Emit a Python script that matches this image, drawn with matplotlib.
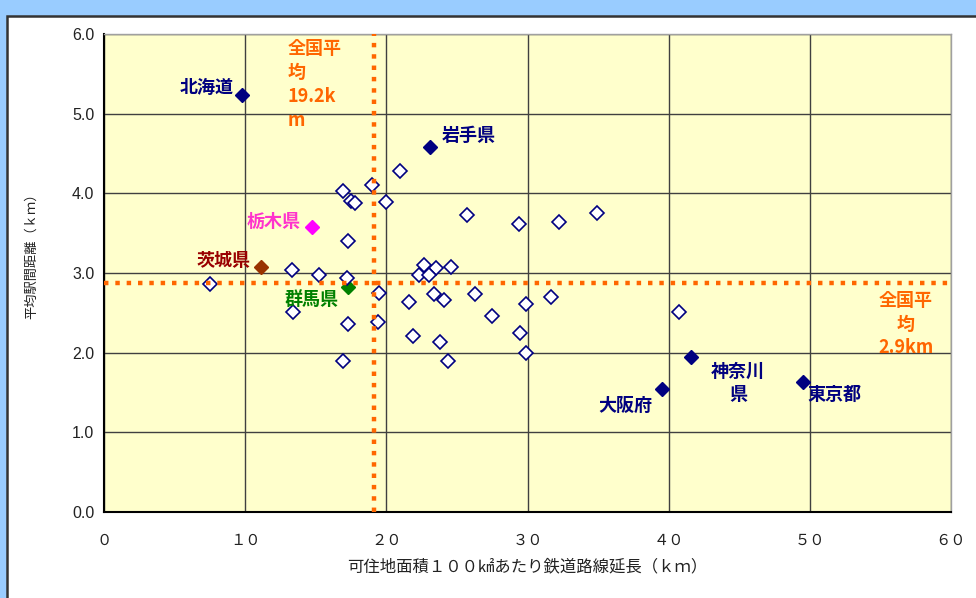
import matplotlib
matplotlib.use("Agg")
import matplotlib.pyplot as plt
from matplotlib.patches import Rectangle

plt.rcParams['font.family'] = ['Noto Sans CJK JP', 'DejaVu Sans']

# ---- data ----
open_x = [16.9, 17.5, 17.8, 19.0, 20.0, 21.0, 25.7, 29.4, 32.2, 34.9,
          17.3, 13.3, 15.2, 17.2, 7.5, 22.7, 23.5, 24.6, 22.3, 23.0,
          19.5, 23.4, 24.1, 21.6, 26.3, 29.9, 31.7, 27.5, 19.4, 13.4,
          17.3, 21.9, 23.8, 29.5, 24.4, 29.9, 16.9, 40.7]
open_y = [4.03, 3.91, 3.88, 4.11, 3.89, 4.28, 3.73, 3.62, 3.64, 3.75,
          3.40, 3.04, 2.97, 2.94, 2.86, 3.10, 3.06, 3.08, 2.97, 2.98,
          2.75, 2.74, 2.66, 2.63, 2.74, 2.61, 2.70, 2.46, 2.39, 2.51,
          2.36, 2.21, 2.13, 2.25, 1.90, 1.99, 1.90, 2.51]

named = ['北海道', '岩手県', '栃木県', '茨城県', '群馬県', '大阪府', '神奈川県', '東京都']
named_x = [9.8, 23.1, 14.7, 11.1, 17.3, 39.5, 41.6, 49.5]
named_y = [5.24, 4.58, 3.58, 3.08, 2.83, 1.54, 1.94, 1.63]
named_colors = ['#000080', '#000080', '#FF00FF', '#993300', '#008000',
                '#000080', '#000080', '#000080']

avg_x = 19.1
avg_y = 2.88

x_ticks = [0, 10, 20, 30, 40, 50, 60]
x_tick_labels = ['０', '１０', '２０', '３０', '４０', '５０', '６０']
y_ticks = [0, 1, 2, 3, 4, 5, 6]
y_tick_labels = ['0.0', '1.0', '2.0', '3.0', '4.0', '5.0', '6.0']

# ---- figure ----
fig = plt.figure(figsize=(9.76, 5.98), dpi=100)
fig.patches.append(Rectangle((0, 0), 1, 1, transform=fig.transFigure,
                             facecolor='#99CCFF', edgecolor='none', zorder=-10))
fig.patches.append(Rectangle((6.5 / 976, -0.05), 1.2, 1 - 15.5 / 598 + 0.05,
                             transform=fig.transFigure, facecolor='white',
                             edgecolor='#333333', linewidth=1.8, zorder=-9))

ax = fig.add_axes([104 / 976, (598 - 512) / 598, (951 - 104) / 976, (512 - 34) / 598])
ax.set_facecolor('#FFFFCC')
ax.set_xlim(0, 60)
ax.set_ylim(0, 6)
ax.set_xticks(x_ticks)
ax.set_xticklabels(x_tick_labels, fontsize=11, color='#222222')
ax.set_yticks(y_ticks)
ax.set_yticklabels(y_tick_labels, fontsize=11.5, color='#222222',
                   family=['Liberation Sans', 'DejaVu Sans'])
ax.tick_params(axis='both', length=0)
ax.tick_params(axis='x', pad=14)
ax.tick_params(axis='y', pad=7)
ax.grid(True, color='#404040', linewidth=1.0)
ax.set_axisbelow(True)
for s in ['left', 'bottom']:
    ax.spines[s].set_color('#000000')
    ax.spines[s].set_linewidth(1.5)
for s in ['top', 'right']:
    ax.spines[s].set_color('#A0A0A0')
    ax.spines[s].set_linewidth(1.0)

# named (filled) markers first, then open ones over them
for x, y, c in zip(named_x, named_y, named_colors):
    ax.plot([x], [y], marker='D', markersize=7.3, color=c, markeredgecolor=c,
            linestyle='none', zorder=3)
ax.plot(open_x, open_y, marker='D', markersize=7.2, markerfacecolor='white',
        markeredgecolor='#000080', markeredgewidth=1.2, linestyle='none', zorder=4)

# average lines
ax.axvline(avg_x, color='#FF6600', linewidth=3.2, linestyle=(0, (1, 1.55)),
           dash_capstyle='butt', zorder=5)
ax.axhline(avg_y, color='#FF6600', linewidth=3.2, linestyle=(0, (1, 1.55)),
           dash_capstyle='butt', zorder=5)

fs = 13
lab = dict(fontsize=fs, fontweight='bold', va='center', zorder=6)
ax.text(9.2, 5.33, '北海道', color='#000080', ha='right', **lab)
ax.text(23.9, 4.72, '岩手県', color='#000080', ha='left', **lab)
ax.text(13.9, 3.65, '栃木県', color='#FF33CC', ha='right', **lab)
ax.text(10.35, 3.16, '茨城県', color='#990000', ha='right', **lab)
ax.text(12.8, 2.67, '群馬県', color='#008000', ha='left', **lab)
ax.text(35.0, 1.34, '大阪府', color='#000080', ha='left', **lab)
ax.text(44.9, 1.76, '神奈川', color='#000080', ha='center', **lab)
ax.text(44.9, 1.47, '県', color='#000080', ha='center', **lab)
ax.text(49.8, 1.47, '東京都', color='#000080', ha='left', **lab)

for t, y in zip(['全国平', '均', '19.2k', 'm'], [5.82, 5.52, 5.21, 4.92]):
    ax.text(13.0, y, t, color='#FF6600', ha='left', **lab)
for t, y in zip(['全国平', '均', '2.9km'], [2.65, 2.36, 2.07]):
    ax.text(56.8, y, t, color='#FF6600', ha='center', **lab)

fig.text(527 / 976, 1 - 567 / 598, '可住地面積１００㎢あたり鉄道路線延長（ｋｍ）',
         ha='center', va='center', fontsize=11.8, color='#222222')
fig.text(32 / 976, 1 - 253 / 598, '平均駅間距離（ｋｍ）', rotation=90,
         ha='center', va='center', fontsize=9.5, color='#222222')

fig.savefig('out.png', dpi=100)
